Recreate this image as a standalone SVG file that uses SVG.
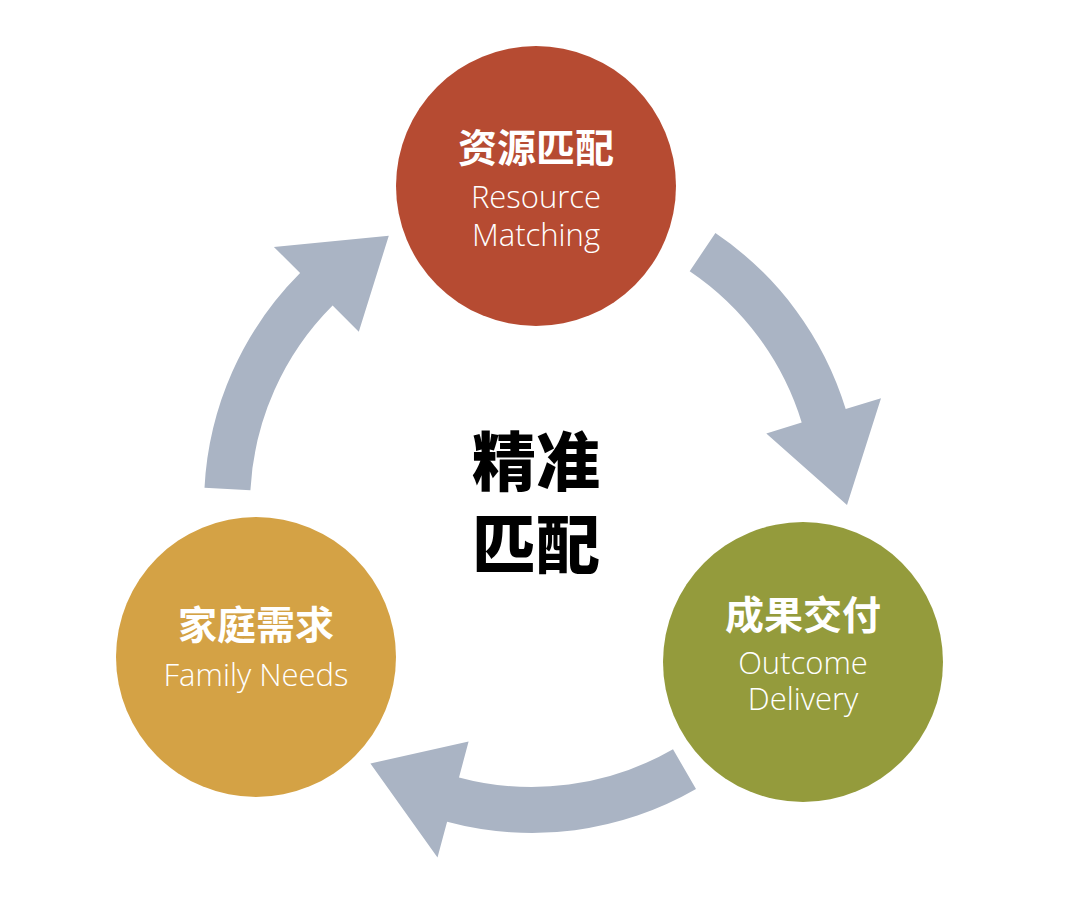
<svg xmlns="http://www.w3.org/2000/svg" width="1080" height="902" viewBox="0 0 1080 902">
<style>
.arr{fill:#AAB4C4}
.zh{font-family:"Noto Sans CJK SC",sans-serif;font-weight:700;fill:#fff;font-size:39px;text-anchor:middle}
.en{font-family:"Open Sans","Noto Sans",sans-serif;font-weight:300;fill:#fff;font-size:31px;text-anchor:middle}
.c{font-family:"Noto Sans CJK SC",sans-serif;font-weight:900;fill:#000;font-size:64px;text-anchor:middle}
</style>
<rect width="1080" height="902" fill="#fff"/>
<g id="connectors">
<path class="arr" d="M204.5,487.8 A328,328 0 0 1 300.1,273.1 L273.9,246.9 L388.8,235.7 L358.8,331.8 L332.6,305.6 A282,282 0 0 0 250.4,490.3 Z"/>
<path class="arr" d="M715.4,233.1 A328,328 0 0 1 845.7,409.1 L881,398.3 L847,505 L766.3,433.4 L801.7,422.5 A282,282 0 0 0 689.7,271.2 Z"/>
<path class="arr" d="M696,789.1 A328,328 0 0 1 447.1,821.8 L437.5,857.6 L370.4,763.6 L468.6,741.6 L459,777.4 A282,282 0 0 0 673,749.2 Z"/>
</g>
<g id="resource">
<circle cx="536" cy="186" r="140" fill="#B64B32"/>
<text class="zh" x="536" y="162">资源匹配</text>
<text class="en" x="536" y="208">Resource</text>
<text class="en" x="536" y="246">Matching</text>
</g>
<g id="outcome">
<circle cx="803" cy="662" r="140" fill="#949B3C"/>
<text class="zh" x="803" y="629">成果交付</text>
<text class="en" x="803" y="674">Outcome</text>
<text class="en" x="803" y="710">Delivery</text>
</g>
<g id="family">
<circle cx="256" cy="657" r="140" fill="#D4A245"/>
<text class="zh" x="256" y="639">家庭需求</text>
<text class="en" x="256" y="686">Family Needs</text>
</g>
<g id="center">
<text class="c" x="536" y="485">精准</text>
<text class="c" x="536" y="568">匹配</text>
</g>
</svg>
